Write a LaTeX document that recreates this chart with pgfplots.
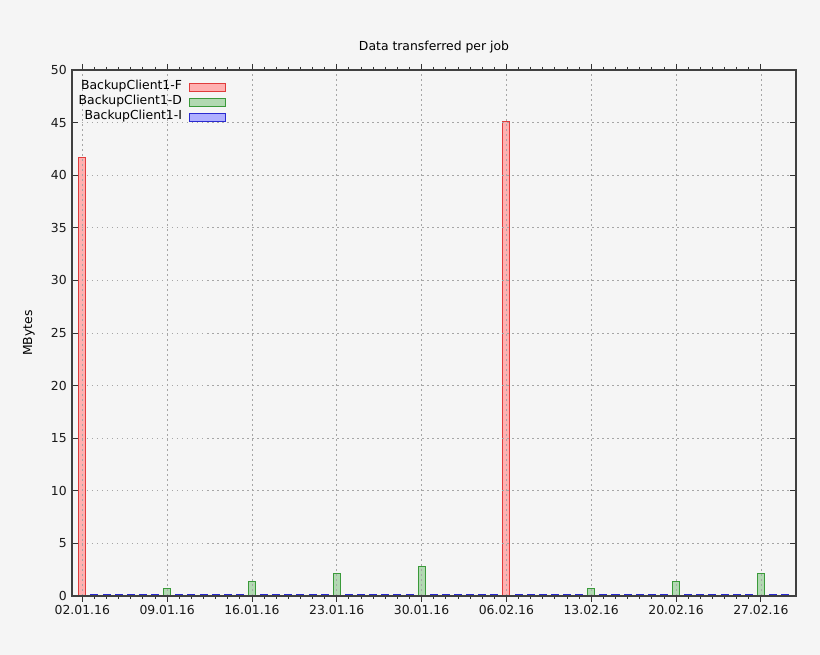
\documentclass[border=0pt]{standalone}
\usepackage{pgfplots}
\pgfplotsset{compat=1.18}
\usepackage{fontspec}
\setmainfont{DejaVu Sans}
\definecolor{bgc}{HTML}{F5F5F5}
\definecolor{fillF}{HTML}{FFB0B0}
\definecolor{edgeF}{HTML}{E03C3C}
\definecolor{fillD}{HTML}{B2D9B2}
\definecolor{edgeD}{HTML}{3A9A3A}
\definecolor{fillI}{HTML}{B0B0FF}
\definecolor{edgeI}{HTML}{2A2AD0}

% day 0 = 02.01.16
\pgfplotstableread{
day mb
0  41.7
35 45.1
}\fulljobs
\pgfplotstableread{
day mb
7  0.7
14 1.4
21 2.1
28 2.8
42 0.7
49 1.4
56 2.1
}\diffjobs
\pgfplotstableread{
day mb
1 0.1
2 0.1
3 0.1
4 0.1
5 0.1
6 0.1
8 0.1
9 0.1
10 0.1
11 0.1
12 0.1
13 0.1
15 0.1
16 0.1
17 0.1
18 0.1
19 0.1
20 0.1
22 0.1
23 0.1
24 0.1
25 0.1
26 0.1
27 0.1
29 0.1
30 0.1
31 0.1
32 0.1
33 0.1
34 0.1
36 0.1
37 0.1
38 0.1
39 0.1
40 0.1
41 0.1
43 0.1
44 0.1
45 0.1
46 0.1
47 0.1
48 0.1
50 0.1
51 0.1
52 0.1
53 0.1
54 0.1
55 0.1
57 0.1
58 0.1
}\incjobs

\begin{document}
\fontsize{12.4}{14}\selectfont
\begin{tikzpicture}
\fill[bgc] (-72pt,-59pt) rectangle (748pt,596pt);
\begin{axis}[
  scale only axis,
  width=724pt, height=526pt,
  axis on top,
  axis line style={line width=1.1pt, black!75},
  xmin=-0.85, xmax=58.9,
  ymin=0, ymax=50,
  ytick={0,5,...,50},
  xtick={0,7,...,56},
  xticklabels={02.01.16,09.01.16,16.01.16,23.01.16,30.01.16,06.02.16,13.02.16,20.02.16,27.02.16},
  minor x tick num=6,
  tick align=inside,
  major tick length=6pt, minor tick length=3pt,
  tick style={black!80, line width=0.8pt},
  grid=major,
  major grid style={gray!70, line width=0.7pt, dash pattern=on 1.5pt off 3.5pt},
  /pgf/number format/assume math mode=true,
  ticklabel style={font=\fontsize{12.4}{14}\selectfont, black!90},
  xticklabel style={yshift=1.5pt},
  yticklabel style={xshift=-1pt},
  title={Data transferred per job},
  title style={at={(axis description cs:0.5,1.0323)}, anchor=center},
  ylabel={MBytes},
  ylabel style={at={(axis description cs:-0.0595,0.5)}, anchor=center},
  ybar, bar width=0.58,
  every axis plot/.append style={bar shift=0pt, line width=0.9pt},
  legend cell align=right,
  legend plot pos=right,
  legend image code/.code={\draw[#1] (0pt,-4pt) rectangle (36pt,4pt);},
  legend style={at={(axis description cs:0.009,0.9795)}, anchor=north west,
    draw=none, fill=none, inner sep=0pt, row sep=3pt, column sep=7pt,
    nodes={inner sep=0pt, text height=9pt, text depth=3pt}},
]
\addplot[draw=edgeF, fill=fillF] table[x=day, y=mb] {\fulljobs};
\addlegendentry{BackupClient1-F}
\addplot[draw=edgeD, fill=fillD] table[x=day, y=mb] {\diffjobs};
\addlegendentry{BackupClient1-D}
\addplot[draw=edgeI, fill=fillI] table[x=day, y=mb] {\incjobs};
\addlegendentry{BackupClient1-I}
\end{axis}
\end{tikzpicture}
\end{document}
